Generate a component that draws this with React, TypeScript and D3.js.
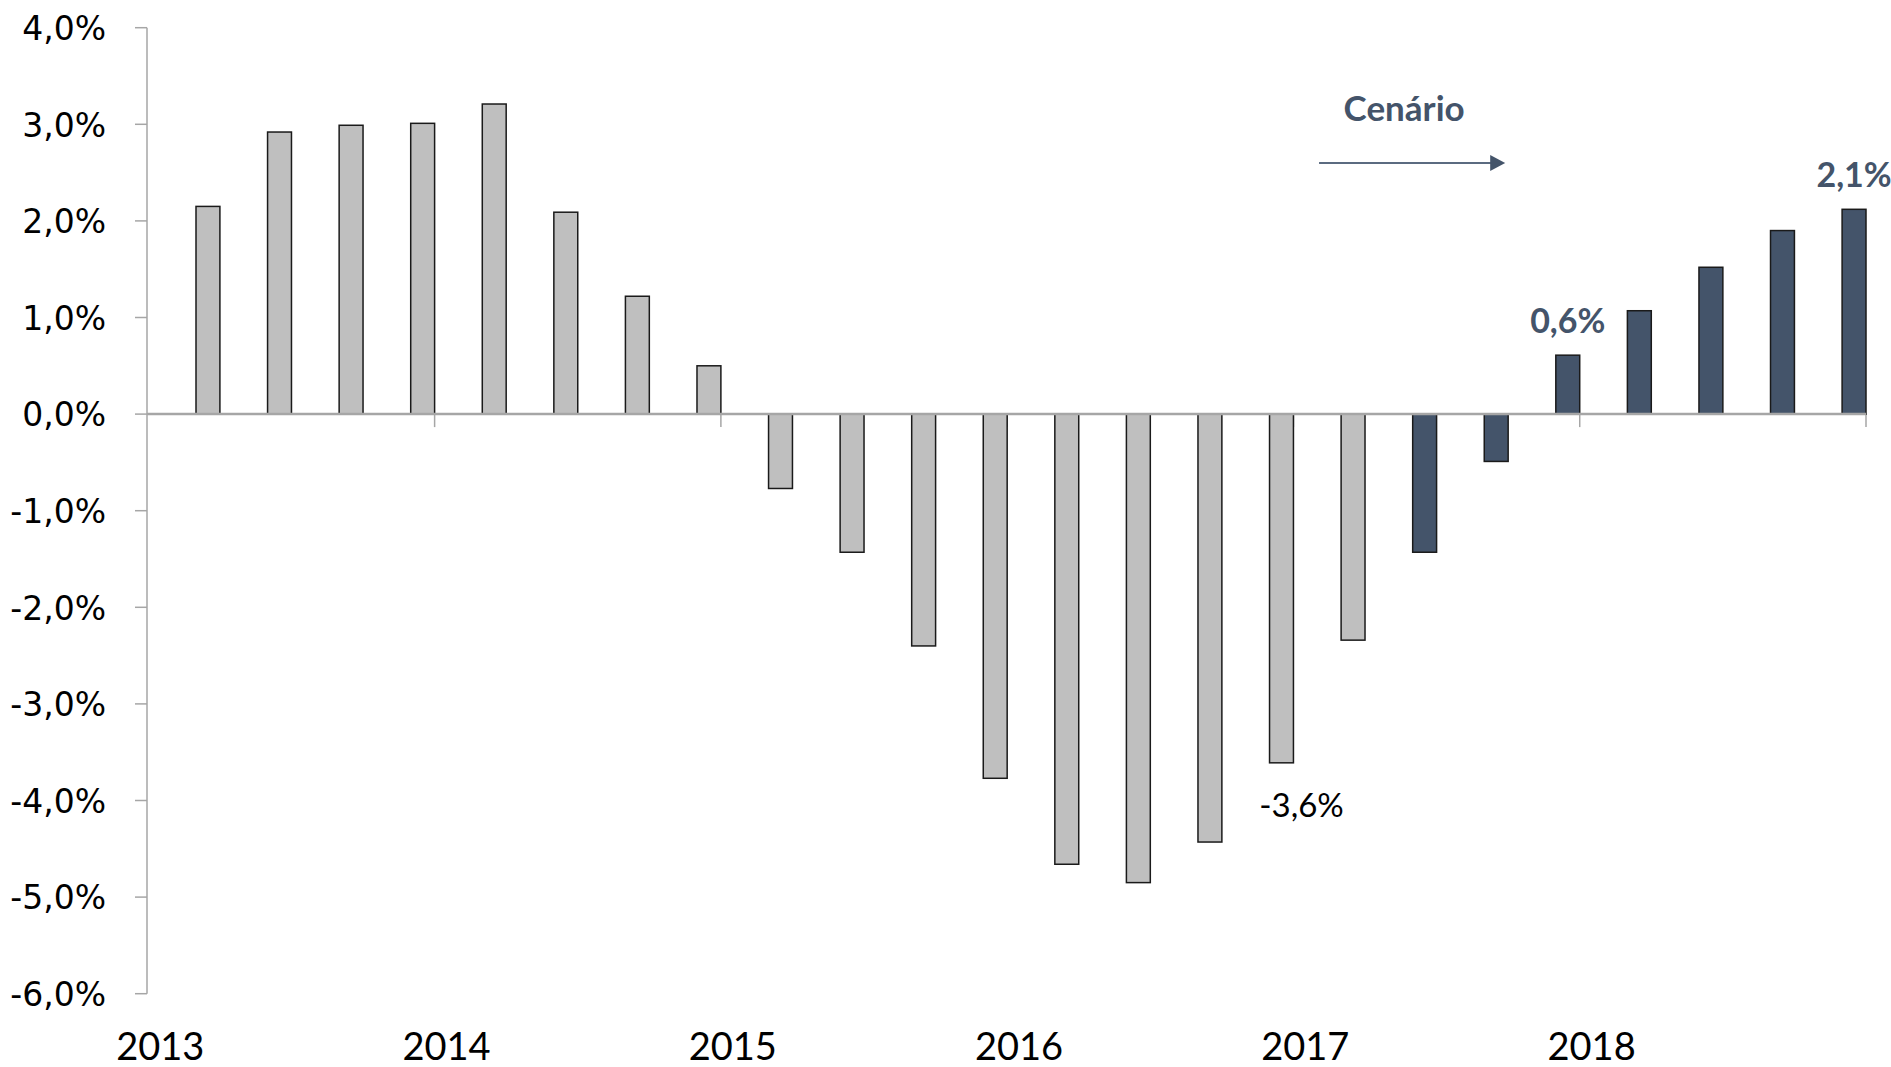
import React from "react";
import * as d3 from "d3";

// quarterly GDP growth (4-quarter accumulated), % — from 1T13 to 4T18
const quarters = [
  "1T13", "2T13", "3T13", "4T13",
  "1T14", "2T14", "3T14", "4T14",
  "1T15", "2T15", "3T15", "4T15",
  "1T16", "2T16", "3T16", "4T16",
  "1T17", "2T17", "3T17", "4T17",
  "1T18", "2T18", "3T18", "4T18",
];
const values = [
  2.15, 2.92, 2.99, 3.01,
  3.21, 2.09, 1.22, 0.5,
  -0.77, -1.43, -2.4, -3.77,
  -4.66, -4.85, -4.43, -3.61,
  -2.34, -1.43, -0.49, 0.61,
  1.07, 1.52, 1.9, 2.12,
];
const scenarioStart = "2T17";
const years = ["2013", "2014", "2015", "2016", "2017", "2018"];
const yTicks = [4, 3, 2, 1, 0, -1, -2, -3, -4, -5, -6];

// labelled bars
const callouts = [
  { q: "4T16", text: "-3,6%", bold: false },
  { q: "4T17", text: "0,6%", bold: true },
  { q: "4T18", text: "2,1%", bold: true },
];

const width = 1891;
const height = 1067;
const dark = "#44546A";
const grey = "#BFBFBF";
const axisGrey = "#A6A6A6";

const fmt = (v: number) => v.toFixed(1).replace(".", ",") + "%";

export default function App() {
  const x = d3
    .scaleBand()
    .domain(quarters)
    .range([196, 1866])
    .paddingInner(0.666)
    .paddingOuter(0);

  const y = d3.scaleLinear().domain([-6, 4]).range([993.7, 27.7]);

  const axisX = 147;
  const bw = x.bandwidth();
  const step = x.step();
  const startIdx = quarters.indexOf(scenarioStart);
  const data = quarters.map((q, i) => ({ q, v: values[i], i }));
  const xEnd = (x(quarters[quarters.length - 1]) as number) + bw;

  // category ticks: at year boundaries plus end of axis
  const catTicks = years
    .slice(1)
    .map((yr) => (x("1T" + yr.slice(2)) as number) - step + bw)
    .concat([xEnd]);

  const arrowY = y(2.6);
  const arrowX0 = (x("1T17") as number) + bw / 2 - 34;
  const arrowX1 = (x("3T17") as number) + bw / 2 + 9;

  return (
    <svg
      width={width}
      height={height}
      style={{ position: "absolute", left: 0, top: 0, background: "#fff" }}
    >
      {/* y axis */}
      <line x1={axisX} x2={axisX} y1={y(4)} y2={y(-6)} stroke={axisGrey} strokeWidth={1.5} />
      {yTicks.map((t) => (
        <g key={t}>
          <line x1={axisX - 12} x2={axisX} y1={y(t)} y2={y(t)} stroke={axisGrey} strokeWidth={1.5} />
          <text
            x={106}
            y={y(t)}
            dy="0.37em"
            textAnchor="end"
            fontFamily="DejaVu Sans"
            fontSize={33}
            fill="#000"
          >
            {fmt(t)}
          </text>
        </g>
      ))}

      {/* category ticks below zero line */}
      {catTicks.map((cx, i) => (
        <line key={i} x1={cx} x2={cx} y1={y(0)} y2={y(0) + 13} stroke={axisGrey} strokeWidth={1.5} />
      ))}

      {/* bars */}
      {data.map((d) => (
        <rect
          key={d.q}
          x={x(d.q)}
          y={Math.min(y(d.v), y(0))}
          width={bw}
          height={Math.abs(y(d.v) - y(0))}
          fill={d.i >= startIdx ? dark : grey}
          stroke="#1a1a1a"
          strokeWidth={1.5}
        />
      ))}

      {/* zero line */}
      <line x1={axisX} x2={xEnd} y1={y(0)} y2={y(0)} stroke={axisGrey} strokeWidth={2.5} />

      {/* year labels */}
      {years.map((yr) => (
        <text
          key={yr}
          x={(x("1T" + yr.slice(2)) as number) - step / 2}
          y={y(-6) + 66}
          textAnchor="middle"
          fontFamily="Lato"
          fontSize={38}
          fill="#000"
        >
          {yr}
        </text>
      ))}

      {/* callouts */}
      {callouts.map((c) => {
        const v = values[quarters.indexOf(c.q)];
        const cx = (x(c.q) as number) + bw / 2;
        return c.bold ? (
          <text
            key={c.q}
            x={cx}
            y={y(v) - 22}
            textAnchor="middle"
            fontFamily="Lato"
            fontWeight="bold"
            fontSize={34}
            fill={dark}
          >
            {c.text}
          </text>
        ) : (
          <text
            key={c.q}
            x={cx + 20}
            y={y(v) + 54}
            textAnchor="middle"
            fontFamily="Lato"
            fontSize={33}
            fill="#000"
          >
            {c.text}
          </text>
        );
      })}

      {/* scenario annotation */}
      <text
        x={(arrowX0 + arrowX1) / 2 - 8}
        y={y(3.03)}
        textAnchor="middle"
        fontFamily="Lato"
        fontWeight="bold"
        fontSize={35}
        fill={dark}
      >
        Cenário
      </text>
      <line x1={arrowX0} x2={arrowX1 - 14} y1={arrowY} y2={arrowY} stroke="#5B6B80" strokeWidth={2} />
      <path
        d={`M${arrowX1 - 15},${arrowY - 8} L${arrowX1},${arrowY} L${arrowX1 - 15},${arrowY + 8} Z`}
        fill={dark}
      />
    </svg>
  );
}
